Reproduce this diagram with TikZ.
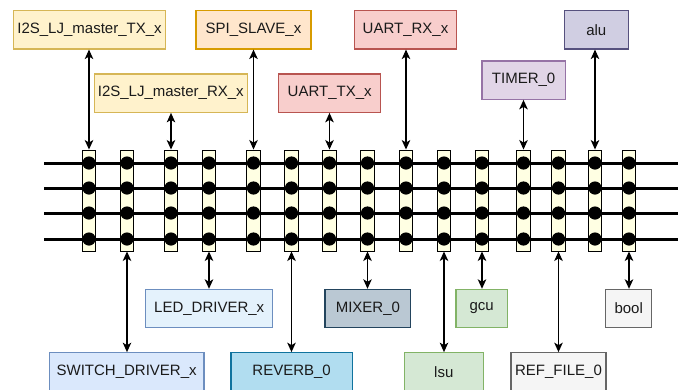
\documentclass[tikz,border=0pt]{standalone}
\usepackage{fontspec}
\setmainfont{Liberation Sans}
\usetikzlibrary{arrows.meta}
\definecolor{txf}{HTML}{FFF2CC}\definecolor{txd}{HTML}{D6B656}
\definecolor{spif}{HTML}{FFE6CC}\definecolor{spid}{HTML}{D79B00}
\definecolor{uaf}{HTML}{F8CECC}\definecolor{uad}{HTML}{B85450}
\definecolor{tif}{HTML}{E1D5E7}\definecolor{tid}{HTML}{9673A6}
\definecolor{aluf}{HTML}{D0CEE2}\definecolor{alud}{HTML}{56517E}
\definecolor{swf}{HTML}{DAE8FC}\definecolor{swd}{HTML}{6C8EBF}
\definecolor{ledf}{HTML}{E4F2FC}
\definecolor{revf}{HTML}{B1DDF0}\definecolor{revd}{HTML}{10739E}
\definecolor{mixf}{HTML}{BAC8D3}\definecolor{mixd}{HTML}{23445D}
\definecolor{grf}{HTML}{D5E8D4}\definecolor{grd}{HTML}{82B366}
\definecolor{gyf}{HTML}{F5F5F5}\definecolor{gyd}{HTML}{666666}
\definecolor{colf}{HTML}{FFFFE3}
\definecolor{txt}{HTML}{1A1A1A}
\begin{document}
\begin{tikzpicture}[x=1pt,y=-1pt,
  box/.style={draw, line width=1.1pt, minimum height=38.3pt, inner sep=0pt, text=txt,
    font=\fontsize{15}{18}\selectfont},
  colbox/.style={draw=black, line width=0.9pt, fill=colf, minimum width=13.3pt, minimum height=101pt, inner sep=0pt},
  bus/.style={line width=3pt},
  biarrow/.style={line width=1.3pt, {Stealth[length=9.5pt,width=8.5pt,inset=2.5pt]}-{Stealth[length=9.5pt,width=8.5pt,inset=2.5pt]}},
  dotc/.style={circle, fill=black, minimum size=13.2pt, inner sep=0pt}
]
\useasboundingbox (0,0) rectangle (683,389);
\clip (0,0) rectangle (683,389);

% columns
\foreach \i/\x in {1/89,2/127,3/171,4/209,5/253.5,6/291.5,7/329.5,8/367.5,9/406,10/444,11/482,12/523.5,13/558.5,14/595,15/629}{
  \node[colbox] (c\i) at (\x,200.5) {};
}
% bus lines
\foreach \j/\y in {1/163,2/188,3/213,4/239}{
  \coordinate (bl\j) at (44,\y);
  \coordinate (br\j) at (678,\y);
  \draw[bus] (bl\j) -- (br\j);
}
% dots
\foreach \i in {1,...,15}{
  \foreach \j in {1,...,4}{
    \node[dotc] (d\i-\j) at (c\i |- bl\j) {};
  }
}

% top boxes
\node[box, fill=txf, draw=txd, minimum width=152.4pt] (tx) at (89.5,29.85) {I2S\_LJ\_master\_TX\_x};
\node[box, fill=spif, draw=spid, minimum width=115pt] (spi) at (253.5,29.85) {SPI\_SLAVE\_x};
\node[box, fill=txf, draw=txd, minimum width=153pt] (rx) at (170.8,93.15) {I2S\_LJ\_master\_RX\_x};
\node[box, fill=uaf, draw=uad, minimum width=102pt] (utx) at (329.7,93.15) {UART\_TX\_x};
\node[box, fill=uaf, draw=uad, minimum width=102.4pt] (urx) at (405.5,29.85) {UART\_RX\_x};
\node[box, fill=tif, draw=tid, minimum width=83.3pt] (tim) at (523.65,80.15) {TIMER\_0};
\node[box, fill=aluf, draw=alud, minimum width=64pt] (alu) at (596.3,29.85) {alu};

% bottom boxes
\node[box, fill=ledf, draw=swd, minimum width=127pt] (led) at (209.2,308.5) {LED\_DRIVER\_x};
\node[box, fill=mixf, draw=mixd, minimum width=85.7pt] (mix) at (367.85,308.5) {MIXER\_0};
\node[box, fill=grf, draw=grd, minimum width=51.3pt] (gcu) at (481.65,308.5) {gcu};
\node[box, fill=gyf, draw=gyd, minimum width=46pt] (bool) at (628.7,308.5) {bool};
\node[box, fill=swf, draw=swd, minimum width=154.7pt] (sw) at (126.65,371.85) {SWITCH\_DRIVER\_x};
\node[box, fill=revf, draw=revd, minimum width=121.3pt] (rev) at (291.65,371.85) {REVERB\_0};
\node[box, fill=grf, draw=grd, minimum width=79pt] (lsu) at (443.8,371.85) {lsu};
\node[box, fill=gyf, draw=gyd, minimum width=95pt] (ref) at (558.5,371.85) {REF\_FILE\_0};

% connectors top
\draw[biarrow] (c1.north) -- (c1.north |- tx.south);
\draw[biarrow] (c3.north) -- (c3.north |- rx.south);
\draw[biarrow] (c5.north) -- (c5.north |- spi.south);
\draw[biarrow] (c7.north) -- (c7.north |- utx.south);
\draw[biarrow] (c9.north) -- (c9.north |- urx.south);
\draw[biarrow] (c12.north) -- (c12.north |- tim.south);
\draw[biarrow] (c14.north) -- (c14.north |- alu.south);
% connectors bottom
\draw[biarrow] (c2.south) -- (c2.south |- sw.north);
\draw[biarrow] (c4.south) -- (c4.south |- led.north);
\draw[biarrow] (c6.south) -- (c6.south |- rev.north);
\draw[biarrow] (c8.south) -- (c8.south |- mix.north);
\draw[biarrow] (c10.south) -- (c10.south |- lsu.north);
\draw[biarrow] (c11.south) -- (c11.south |- gcu.north);
\draw[biarrow] (c13.south) -- (c13.south |- ref.north);
\draw[biarrow] (c15.south) -- (c15.south |- bool.north);
\end{tikzpicture}
\end{document}
